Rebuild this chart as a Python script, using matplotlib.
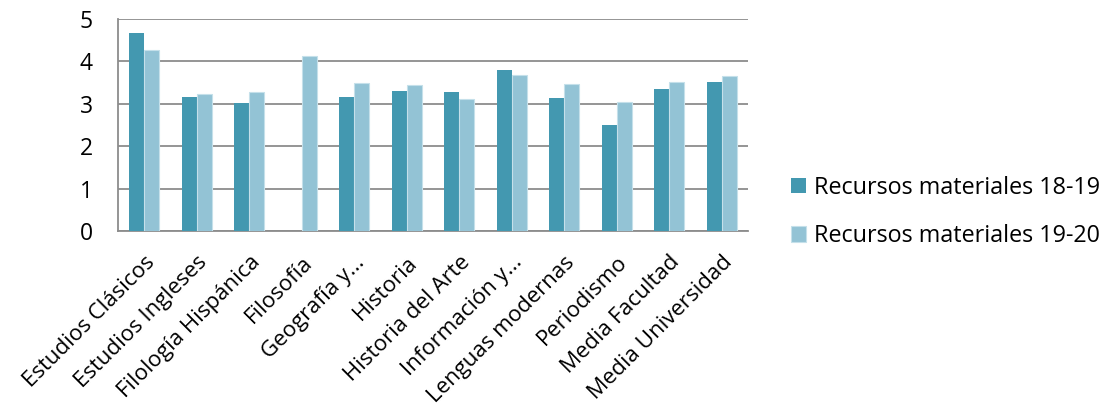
import numpy as np
import matplotlib.pyplot as plt

plt.rcParams['font.family'] = ['Open Sans', 'DejaVu Sans']

# datos
categorias = ["Estudios Clásicos", "Estudios Ingleses", "Filología Hispánica",
              "Filosofía", "Geografía y...", "Historia", "Historia del Arte",
              "Información y...", "Lenguas modernas", "Periodismo",
              "Media Facultad", "Media Universidad"]
rm_18_19 = [4.68, 3.17, 3.01, 0, 3.17, 3.31, 3.28, 3.80, 3.13, 2.49, 3.34, 3.52]
rm_19_20 = [4.27, 3.23, 3.27, 4.13, 3.50, 3.45, 3.12, 3.68, 3.47, 3.04, 3.52, 3.66]

color1 = '#4398B0'
color2 = '#93C3D5'

fig = plt.figure(figsize=(11.04, 4.15), dpi=100)
ax = fig.add_axes([118/1104, 1 - 231/415, 630/1104, 212/415])

x = np.arange(len(categorias))
w = 0.286
ax.bar(x - w/2, rm_18_19, w, color=color1, label='Recursos materiales 18-19', zorder=3)
ax.bar(x + w/2, rm_19_20, w, color=color2, edgecolor='#C5E0EA', linewidth=0.8,
       label='Recursos materiales 19-20', zorder=3)

ax.set_xlim(-0.5, len(categorias) - 0.5)
ax.set_ylim(0, 5)
ax.set_yticks(range(6))
ax.yaxis.grid(True, color='#8C8C8C', linewidth=1.3, zorder=0)
for s in ['top', 'right']:
    ax.spines[s].set_visible(False)
ax.spines['left'].set_color('#8C8C8C')
ax.spines['bottom'].set_color('#8C8C8C')
ax.spines['left'].set_linewidth(1.3)
ax.spines['bottom'].set_linewidth(1.3)
ax.tick_params(axis='y', length=0, pad=18, labelsize=16.5)
ax.tick_params(axis='x', length=0, pad=15, labelsize=16)
ax.set_xticks(x)
ax.set_xticklabels(categorias, rotation=45, ha='right', rotation_mode='anchor')

ax.legend(loc='center left', bbox_to_anchor=((770 - 118) / 630, 0.09), frameon=False,
          fontsize=16.8, handlelength=0.65, handleheight=0.65, handletextpad=0.35,
          labelspacing=1.05)

fig.savefig('out.png', dpi=100)
